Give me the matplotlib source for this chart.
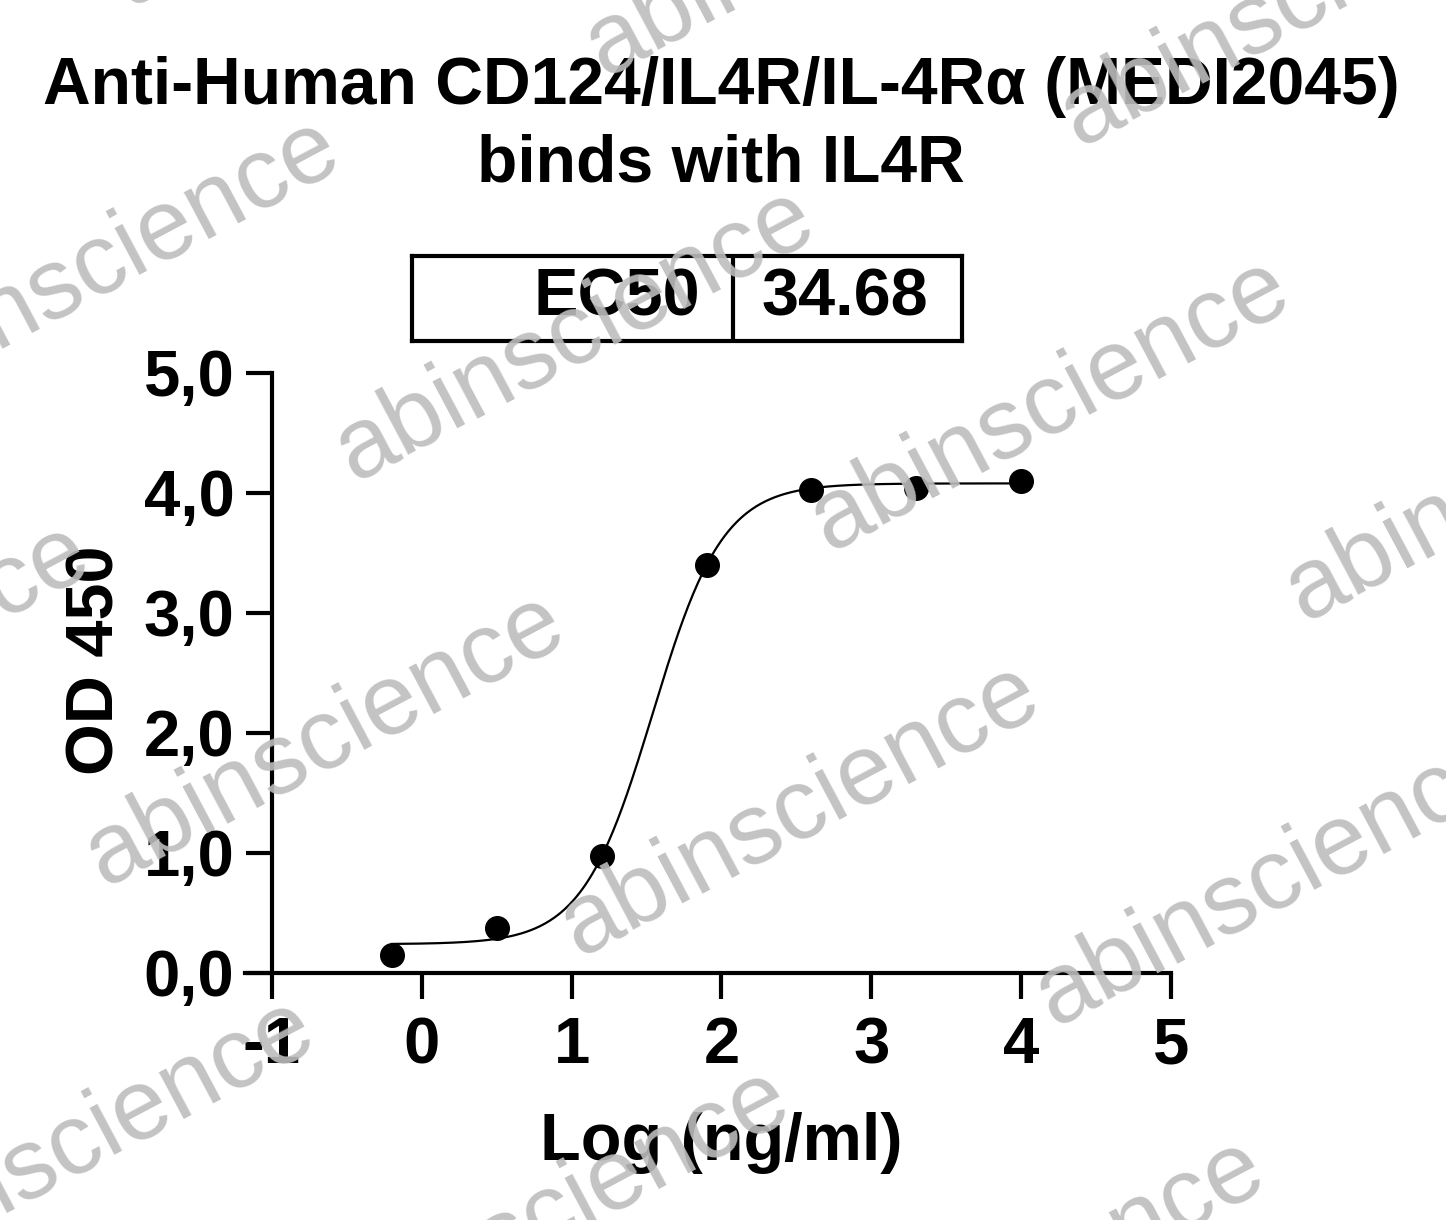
import numpy as np
import matplotlib
matplotlib.use("Agg")
import matplotlib.pyplot as plt

plt.rcParams['font.family'] = ['Liberation Sans', 'DejaVu Sans']

# data
log_conc = [-0.2, 0.5, 1.2, 1.9, 2.6, 3.3, 4.0]
od450 = [0.15, 0.375, 0.975, 3.40, 4.025, 4.04, 4.10]

# fitted 4PL curve parameters
ec50 = 34.68
bottom = 0.24
top = 4.08
hill = 1.85

title_lines = ["Anti-Human CD124/IL4R/IL-4Rα (MEDI2045)", "binds with IL4R"]
xticks = [-1, 0, 1, 2, 3, 4, 5]
yticks = [0, 1, 2, 3, 4, 5]
ytick_labels = ["0,0", "1,0", "2,0", "3,0", "4,0", "5,0"]

W, H = 1446, 1220
fig = plt.figure(figsize=(W / 100, H / 100), dpi=100)

ax = fig.add_axes([245 / W, 1 - 973 / H, (1171 - 245) / W, (973 - 373) / H])
ax.set_facecolor('none')

xs = np.linspace(min(log_conc), max(log_conc), 400)
ys = bottom + (top - bottom) / (1 + 10 ** ((np.log10(ec50) - xs) * hill))
ax.plot(xs, ys, color='black', lw=1.6, zorder=3)
ax.plot(log_conc, od450, 'o', color='black', ms=17, zorder=4, clip_on=False)

ax.set_xlim(-1.18, 5)
ax.set_ylim(0, 5)
ax.spines['top'].set_visible(False)
ax.spines['right'].set_visible(False)
ax.spines['left'].set_position(('data', -1))
for s in ['left', 'bottom']:
    ax.spines[s].set_linewidth(3)
ax.set_xticks(xticks)
ax.set_xticklabels([str(t) for t in xticks])
ax.set_yticks(yticks)
ax.set_yticklabels(ytick_labels)
ax.tick_params(axis='both', length=19, width=3, labelsize=47, pad=8)
ax.tick_params(axis='x', pad=12)
for lab in ax.get_xticklabels() + ax.get_yticklabels():
    lab.set_fontweight('bold')

ax.set_xlabel("Log (ng/ml)", fontsize=48, fontweight='bold')
ax.set_ylabel("OD 450", fontsize=48, fontweight='bold')
ax.xaxis.set_label_coords((721 - 245) / (1171 - 245), -(1112 - 973) / 600)
ax.yaxis.set_label_coords(-(245 - 128) / (1171 - 245), (973 - 660) / 600)

fig.text(721 / W, 1 - 104 / H, title_lines[0], ha='center', va='baseline',
         fontsize=47.5, fontweight='bold')
fig.text(721 / W, 1 - 182 / H, title_lines[1], ha='center', va='baseline',
         fontsize=47.5, fontweight='bold')

# EC50 box
bx = fig.add_axes([412 / W, 1 - 341 / H, (962 - 412) / W, (341 - 256) / H])
bx.set_xlim(412, 962)
bx.set_ylim(0, 1)
bx.set_xticks([])
bx.set_yticks([])
for s in bx.spines.values():
    s.set_linewidth(3)
bx.axvline(733, color='black', lw=3)
bx.text(700, 0.5, "EC50", ha='right', va='center', fontsize=48, fontweight='bold')
bx.text(845, 0.5, f"{ec50:.2f}", ha='center', va='center', fontsize=48, fontweight='bold')

# watermark
base = np.array([575, 335])
v1 = np.array([475, 70])
v2 = np.array([250, -405])
for i in range(-2, 4):
    for j in range(-3, 3):
        cx, cy = base + i * v1 + j * v2
        if -300 < cx < W + 300 and -200 < cy < H + 200:
            fig.text(cx / W, 1 - cy / H, "abinscience", rotation=28,
                     rotation_mode='anchor', ha='center', va='center',
                     fontsize=72, color='#bdbdbd', alpha=0.9, zorder=10)

fig.savefig("out.png", dpi=100)
